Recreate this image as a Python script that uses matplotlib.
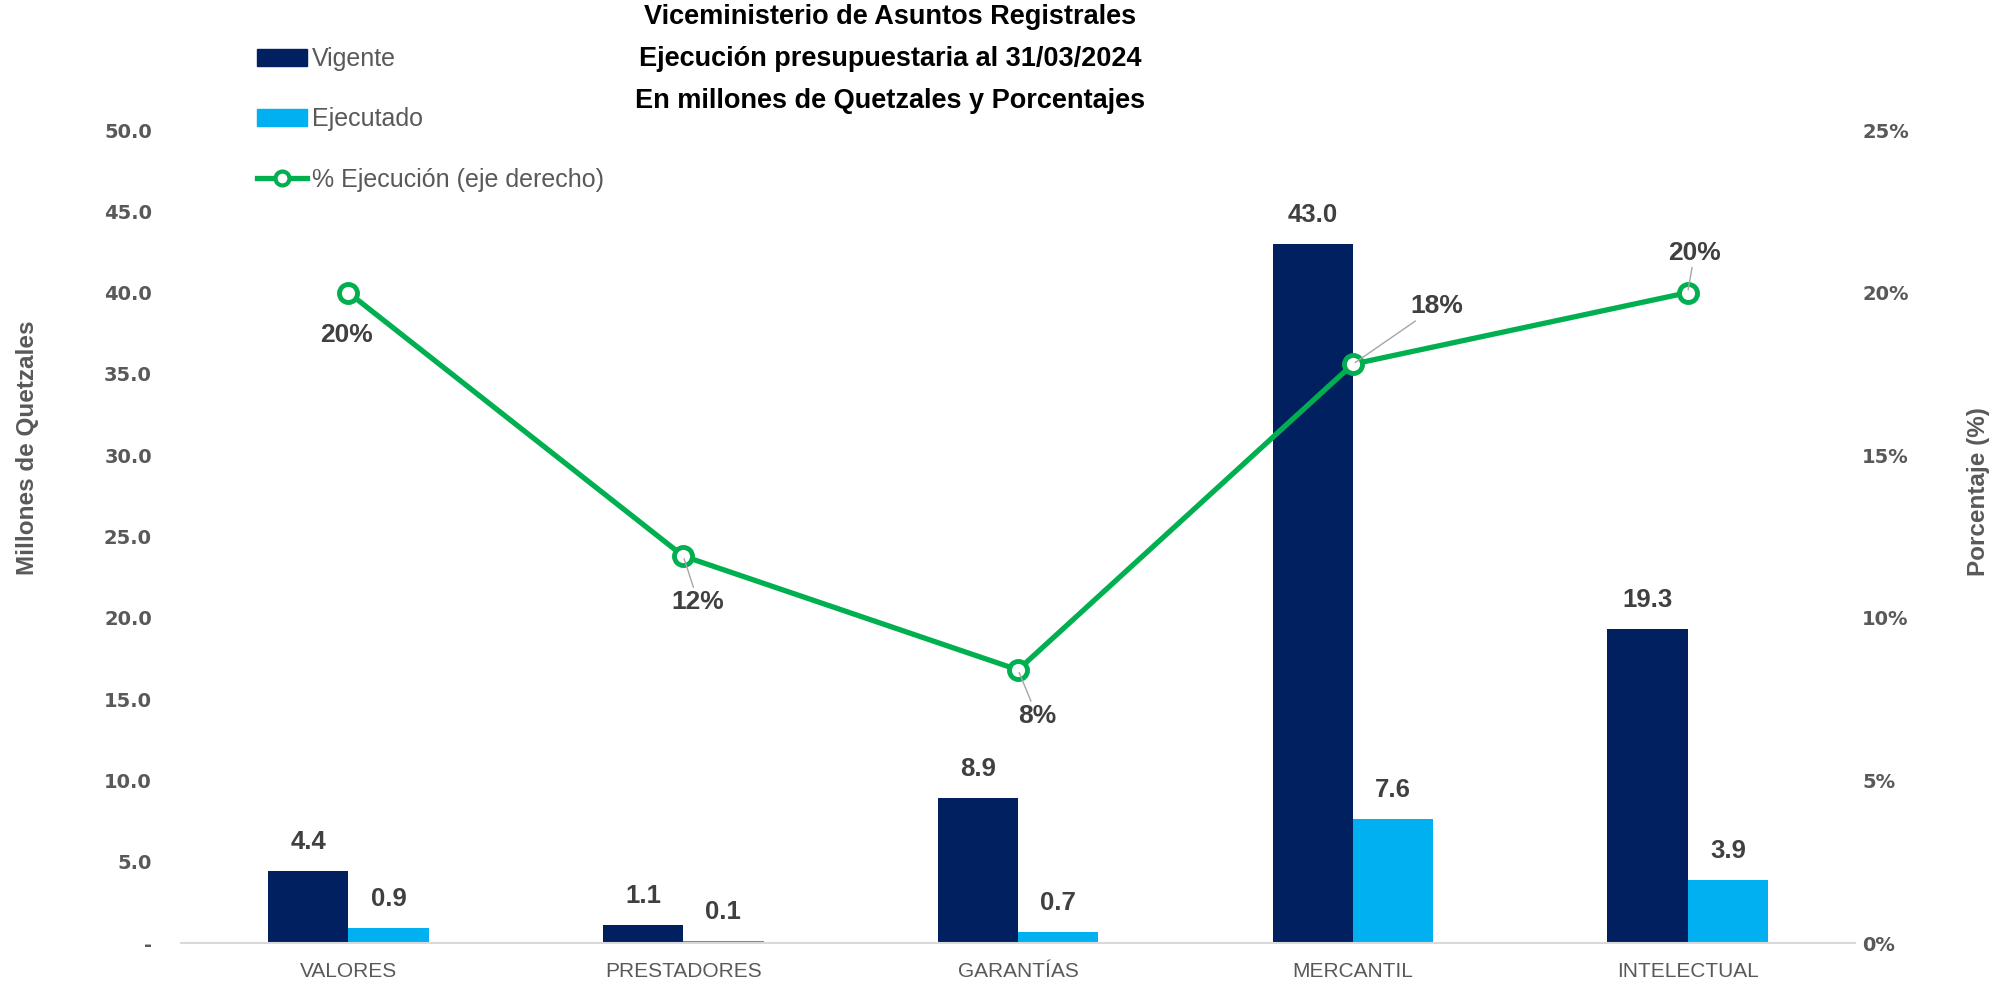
import numpy as np
import matplotlib.pyplot as plt
from matplotlib.lines import Line2D
from matplotlib.patches import Patch

plt.rcParams['font.family'] = ['Liberation Sans', 'DejaVu Sans']

# datos
categorias = ['VALORES', 'PRESTADORES', 'GARANTÍAS', 'MERCANTIL', 'INTELECTUAL']
vigente = [4.4, 1.1, 8.9, 43.0, 19.3]
ejecutado = [0.9, 0.1, 0.7, 7.6, 3.9]
pct_ejecucion = [20.0, 11.9, 8.4, 17.8, 20.0]
pct_labels = ['20%', '12%', '8%', '18%', '20%']

c_vig = '#002060'
c_eje = '#00B0F0'
c_lin = '#00B050'
gris = '#595959'
gris_osc = '#404040'

fig = plt.figure(figsize=(20.07, 9.88), dpi=100)
ax = fig.add_axes([0.0902, 0.0455, 0.8341, 0.8229])
ax2 = ax.twinx()

x = np.arange(len(categorias))
w = 0.24
b1 = ax.bar(x - w / 2, vigente, w, color=c_vig)
b2 = ax.bar(x + w / 2, ejecutado, w, color=c_eje)

for rects, vals in ((b1, vigente), (b2, ejecutado)):
    for r, v in zip(rects, vals):
        ax.annotate(f'{v:.1f}', (r.get_x() + r.get_width() / 2, v),
                    xytext=(0, 17), textcoords='offset pixels',
                    ha='center', va='bottom', fontsize=18.5, fontweight='bold',
                    color=gris_osc)

ax.set_xlim(-0.5, len(categorias) - 0.5)
ax.set_ylim(0, 50)
ax.set_yticks(np.arange(0, 51, 5))
ax.set_yticklabels(['-'] + [f'{v:.1f}' for v in np.arange(5, 51, 5)],
                   family='DejaVu Sans', fontweight='bold', fontsize=14, color=gris)
ax.set_xticks(x)
ax.set_xticklabels(categorias, fontsize=15, color=gris)
ax.tick_params(axis='both', length=0)
ax.tick_params(axis='x', pad=14)
ax.tick_params(axis='y', pad=21)
for s in ['top', 'right', 'left']:
    ax.spines[s].set_visible(False)
ax.spines['bottom'].set_color('#D9D9D9')
ax.spines['bottom'].set_linewidth(1.5)

# linea de porcentaje
ax2.plot(x, pct_ejecucion, color=c_lin, lw=3.8, marker='o', markersize=13,
         markerfacecolor='white', markeredgecolor=c_lin, markeredgewidth=3.5, zorder=5)
ax2.set_ylim(0, 25)
ax2.set_yticks(np.arange(0, 26, 5))
ax2.set_yticklabels([f'{v}%' for v in range(0, 26, 5)],
                    family='DejaVu Sans', fontweight='bold', fontsize=14, color=gris)
ax2.tick_params(axis='y', length=0, pad=5)
for s in ax2.spines.values():
    s.set_visible(False)

offsets = [(-2, -42), (15, -46), (19, -46), (84, 58), (7, 40)]
leader = [False, True, True, True, True]
for xi, p, lab, off, ld in zip(x, pct_ejecucion, pct_labels, offsets, leader):
    props = dict(arrowstyle='-', color='#A6A6A6', lw=1, shrinkA=0, shrinkB=2) if ld else None
    ax2.annotate(lab, (xi, p), xytext=off, textcoords='offset pixels',
                 ha='center', va='center', fontsize=19, fontweight='bold',
                 color=gris_osc, arrowprops=props, zorder=6)

# titulos de ejes
fig.text(28 / 2007, 1 - 448 / 988, 'Millones de Quetzales', rotation=90,
         ha='center', va='center', fontsize=17.5, fontweight='bold', color=gris)
fig.text(1979 / 2007, 1 - 492 / 988, 'Porcentaje (%)', rotation=90,
         ha='center', va='center', fontsize=17.5, fontweight='bold', color=gris)

fig.text(0.4435, 1 - 59 / 988, 'Viceministerio de Asuntos Registrales\n'
         'Ejecución presupuestaria al 31/03/2024\n'
         'En millones de Quetzales y Porcentajes',
         ha='center', va='center', fontsize=19.5, fontweight='bold', color='black',
         linespacing=1.8)

handles = [Patch(color=c_vig), Patch(color=c_eje),
           Line2D([], [], color=c_lin, lw=3.8, marker='o', markersize=10,
                  markerfacecolor='white', markeredgecolor=c_lin, markeredgewidth=3)]
leg = fig.legend(handles, ['Vigente', 'Ejecutado', '% Ejecución (eje derecho)'],
                 loc='upper left', bbox_to_anchor=(0.117, 0.975), frameon=False,
                 fontsize=18, labelspacing=1.45, handlelength=2.0, handletextpad=0.2)
for t in leg.get_texts():
    t.set_color(gris)

fig.savefig('out.png', dpi=100)
